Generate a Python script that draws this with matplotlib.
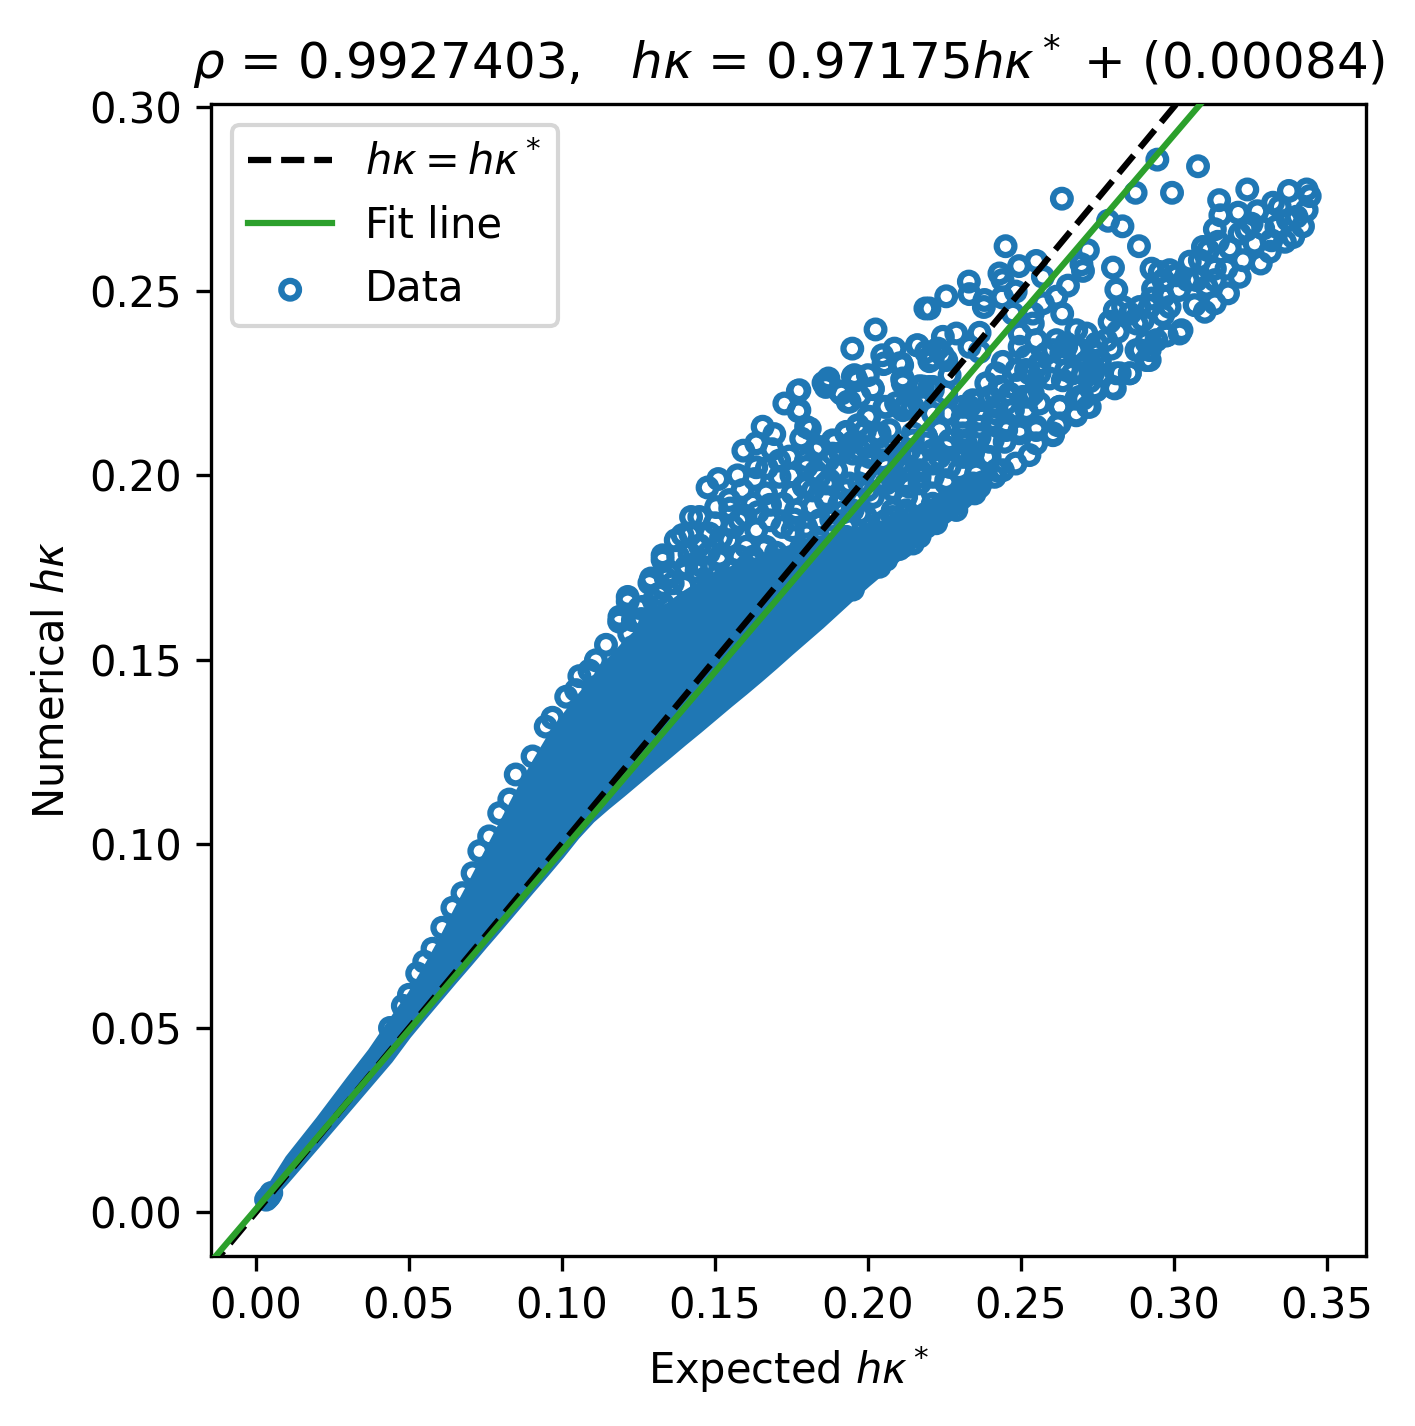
import matplotlib
matplotlib.use("Agg")
import matplotlib.pyplot as plt
import numpy as np

# ---------------- data ----------------
rho = 0.9927403
fit_slope = 0.97175
fit_intercept = 0.00084

# envelope of the saturated (fully overlapping) part of the point cloud
core_x = [0.003, 0.010, 0.020, 0.030, 0.037, 0.044, 0.050, 0.055, 0.060, 0.065,
          0.070, 0.075, 0.080, 0.085, 0.090, 0.095, 0.100, 0.105, 0.110, 0.115,
          0.120, 0.125, 0.130, 0.135, 0.140, 0.145, 0.150, 0.155, 0.160, 0.165,
          0.170, 0.175, 0.180, 0.185, 0.190, 0.195, 0.200, 0.205, 0.210, 0.215,
          0.220, 0.225, 0.230, 0.235, 0.240]
core_lo = [0.0018, 0.0082, 0.0178, 0.0275, 0.0343, 0.0411, 0.0478, 0.0528, 0.0577, 0.0626,
           0.0674, 0.0723, 0.0771, 0.0820, 0.0869, 0.0917, 0.0966, 0.1018, 0.1063, 0.1099,
           0.1133, 0.1168, 0.1203, 0.1237, 0.1272, 0.1306, 0.1341, 0.1376, 0.1410, 0.1445,
           0.1481, 0.1518, 0.1554, 0.1590, 0.1628, 0.1666, 0.1703, 0.1738, 0.1773, 0.1805,
           0.1840, 0.1870, 0.1900, 0.1935, 0.1970]
core_hi = [0.0058, 0.0150, 0.0255, 0.0365, 0.0440, 0.0525, 0.0595, 0.0665, 0.0740, 0.0822,
           0.0900, 0.0980, 0.1060, 0.1140, 0.1215, 0.1285, 0.1345, 0.1400, 0.1450, 0.1500,
           0.1545, 0.1585, 0.1625, 0.1655, 0.1685, 0.1710, 0.1735, 0.1750, 0.1765, 0.1780,
           0.1795, 0.1810, 0.1825, 0.1835, 0.1845, 0.1855, 0.1865, 0.1875, 0.1885, 0.1900,
           0.1930, 0.1960, 0.1985, 0.2005, 0.2020]

# individual points (expected, numerical)
pts_start = [(0.0033, 0.0034), (0.0040, 0.0040), (0.0050, 0.0052), (0.0045, 0.0045)]

pts_fringe = [(0.0373, 0.0392), (0.0438, 0.0500), (0.0480, 0.0560), (0.0500, 0.0590),
              (0.0527, 0.0648), (0.0550, 0.0680),
              (0.0577, 0.0715), (0.0609, 0.0772), (0.0642, 0.0826), (0.0675, 0.0866),
              (0.0708, 0.0920), (0.0730, 0.0980), (0.0762, 0.1020), (0.0795, 0.1083),
              (0.0828, 0.1120), (0.0849, 0.1188), (0.0904, 0.1237), (0.0947, 0.1318),
              (0.0969, 0.1342), (0.1057, 0.1455), (0.1090, 0.1470), (0.1144, 0.1540),
              (0.1187, 0.1603), (0.1215, 0.1658), (0.1286, 0.1708), (0.1329, 0.1771)]

pts_inner = [(0.1460, 0.1652), (0.1558, 0.1661), (0.1438, 0.1761), (0.1515, 0.1779),
             (0.1602, 0.1707), (0.1362, 0.1707), (0.1296, 0.1598), (0.1231, 0.1534),
             (0.1187, 0.1471), (0.1144, 0.1417), (0.1275, 0.1453), (0.1362, 0.1525),
             (0.1427, 0.1580), (0.1515, 0.1580), (0.1624, 0.1634), (0.1689, 0.1743),
             (0.1733, 0.1688), (0.1787, 0.1761), (0.1624, 0.1779), (0.1558, 0.1743),
             (0.1482, 0.1707), (0.1406, 0.1652), (0.1329, 0.1652), (0.1253, 0.1640),
             (0.1111, 0.1498), (0.1046, 0.1417), (0.1014, 0.1399),
             (0.1400, 0.1700), (0.1440, 0.1740), (0.1480, 0.1790), (0.1520, 0.1830),
             (0.1560, 0.1860), (0.1600, 0.1890), (0.1640, 0.1900), (0.1680, 0.1920),
             (0.1720, 0.1860), (0.1760, 0.1880), (0.1800, 0.1840), (0.1840, 0.1830),
             (0.1880, 0.1880), (0.1920, 0.1900), (0.1960, 0.1930), (0.2000, 0.1960),
             (0.2040, 0.1990), (0.1450, 0.1810), (0.1500, 0.1870), (0.1550, 0.1910),
             (0.1590, 0.1960), (0.1630, 0.1990), (0.1670, 0.2020), (0.1710, 0.2040),
             (0.1750, 0.2000), (0.1790, 0.1970), (0.1830, 0.2010), (0.1870, 0.2040),
             (0.1910, 0.2060), (0.1950, 0.2090), (0.1990, 0.2120), (0.1380, 0.1780),
             (0.1340, 0.1720), (0.1300, 0.1660), (0.1260, 0.1610), (0.1220, 0.1570),
             (0.1420, 0.1840), (0.1530, 0.1720), (0.1580, 0.1780), (0.1660, 0.1800),
             (0.1700, 0.1790), (0.1780, 0.1800)]

pts_mid = [(0.1771, 0.2229), (0.1727, 0.2195), (0.1773, 0.2174), (0.1855, 0.2251), (0.1871, 0.2263),
           (0.1907, 0.2228), (0.1940, 0.2200), (0.1951, 0.2269), (0.2000, 0.2272), (0.2016, 0.2234),
           (0.1973, 0.2214), (0.2051, 0.2302), (0.2112, 0.2299), (0.2112, 0.2261), (0.2169, 0.2242),
           (0.1656, 0.2132), (0.1694, 0.2112), (0.1798, 0.2132), (0.1782, 0.2100), (0.1635, 0.2087),
           (0.1593, 0.2067), (0.1687, 0.2071), (0.1635, 0.2022), (0.1574, 0.2000), (0.1511, 0.1990),
           (0.1476, 0.1967), (0.1743, 0.2051), (0.1798, 0.2041), (0.1842, 0.2077), (0.1885, 0.2095),
           (0.1929, 0.2118), (0.1967, 0.2136), (0.2000, 0.2159), (0.2060, 0.2186), (0.2092, 0.2196),
           (0.2125, 0.2192), (0.2169, 0.2210), (0.2201, 0.2240), (0.2038, 0.2114), (0.2060, 0.2077),
           (0.2049, 0.2041), (0.2081, 0.1996), (0.2060, 0.1978), (0.1994, 0.2077), (0.1951, 0.2059),
           (0.1896, 0.2014), (0.1863, 0.1978), (0.1929, 0.1960), (0.1994, 0.2014), (0.1798, 0.1969),
           (0.1754, 0.1951), (0.1711, 0.1996), (0.1667, 0.1951), (0.1624, 0.1923), (0.1722, 0.1923),
           (0.1765, 0.1905), (0.1820, 0.1914), (0.1863, 0.1932), (0.1842, 0.1878), (0.1798, 0.1860),
           (0.1754, 0.1851), (0.1678, 0.1878), (0.1635, 0.1851), (0.1580, 0.1878), (0.1547, 0.1933),
           (0.1504, 0.1914), (0.1449, 0.1887), (0.1422, 0.1887), (0.1394, 0.1838), (0.1372, 0.1824),
           (0.1329, 0.1783), (0.1291, 0.1720), (0.1215, 0.1670), (0.1188, 0.1616), (0.1482, 0.1842),
           (0.1547, 0.1824), (0.1602, 0.1806), (0.1515, 0.1770), (0.1460, 0.1752), (0.1406, 0.1752),
           (0.1351, 0.1734), (0.1417, 0.1788), (0.1602, 0.1752), (0.1667, 0.1806), (0.1700, 0.1770),
           (0.1318, 0.1679), (0.1264, 0.1643), (0.1232, 0.1607),
           (0.2147, 0.2114), (0.2190, 0.2087), (0.2125, 0.2059), (0.2169, 0.2014), (0.2136, 0.1969),
           (0.2212, 0.1951), (0.2190, 0.1896), (0.2125, 0.1896), (0.2125, 0.1842), (0.2060, 0.1878),
           (0.2016, 0.1842), (0.2103, 0.1800), (0.2147, 0.1815), (0.2038, 0.1770), (0.1973, 0.1734),
           (0.1951, 0.1690), (0.1896, 0.1679), (0.1929, 0.1716), (0.1885, 0.1806), (0.1951, 0.1788),
           (0.1994, 0.1806), (0.1929, 0.1860), (0.1973, 0.1896)]

pts_band = [(0.2188, 0.2453), (0.2025, 0.2396), (0.1949, 0.2344), (0.2160, 0.2353), (0.2047, 0.2326),
            (0.2087, 0.2344), (0.2103, 0.2304), (0.2114, 0.2263), (0.2054, 0.2304), (0.1864, 0.2254),
            (0.1862, 0.2240), (0.1956, 0.2272), (0.1963, 0.2258), (0.1913, 0.2222), (0.1934, 0.2200),
            (0.2016, 0.2236), (0.2005, 0.2159), (0.2054, 0.2186), (0.1776, 0.2231), (0.1776, 0.2177),
            (0.1810, 0.2127), (0.1929, 0.2114), (0.1967, 0.2132), (0.1891, 0.2091), (0.1831, 0.2068),
            (0.1885, 0.2059), (0.1972, 0.2068), (0.2005, 0.2050), (0.2071, 0.2123), (0.2114, 0.2177),
            (0.2125, 0.2186), (0.2169, 0.2240), (0.2212, 0.2231), (0.2190, 0.2335), (0.2201, 0.2310),
            (0.2038, 0.2105), (0.2038, 0.2068), (0.2060, 0.2023), (0.2136, 0.2068), (0.2103, 0.2032),
            (0.2136, 0.2023), (0.2190, 0.2105), (0.2212, 0.2068), (0.2169, 0.1978), (0.2212, 0.1996),
            (0.2114, 0.1978), (0.2081, 0.1960), (0.2016, 0.1941), (0.1972, 0.1978), (0.1939, 0.1978),
            (0.1874, 0.1987), (0.1842, 0.1996), (0.1799, 0.2023), (0.2321, 0.2086), (0.2310, 0.2050),
            (0.2267, 0.2023), (0.2256, 0.1978), (0.2299, 0.1942), (0.2343, 0.1978), (0.2289, 0.1925),
            (0.2212, 0.1923), (0.2234, 0.1895), (0.2169, 0.1887), (0.2125, 0.1905), (0.2081, 0.1887),
            (0.2038, 0.1869), (0.1994, 0.1887), (0.1950, 0.1905), (0.1907, 0.1923), (0.1864, 0.1941),
            (0.1820, 0.1959), (0.2103, 0.1830), (0.2060, 0.1815), (0.2016, 0.1797), (0.1972, 0.1815),
            (0.1929, 0.1833), (0.1885, 0.1851), (0.1842, 0.1869), (0.1994, 0.1743), (0.1950, 0.1752),
            (0.1907, 0.1761), (0.2147, 0.1842), (0.2190, 0.1860), (0.2223, 0.1896), (0.2038, 0.1752),
            (0.2414, 0.1996), (0.2441, 0.2014), (0.2365, 0.1969), (0.2349, 0.1951), (0.2289, 0.1906),
            (0.2223, 0.1870), (0.2169, 0.1834), (0.2114, 0.1807), (0.2060, 0.1771), (0.2032, 0.1753),
            (0.2310, 0.2068), (0.2343, 0.2059), (0.2398, 0.2050), (0.2408, 0.2095), (0.2365, 0.2104),
            (0.2310, 0.2141), (0.2365, 0.2159), (0.2452, 0.2141), (0.2496, 0.2123), (0.2550, 0.2132),
            (0.2605, 0.2114), (0.2627, 0.2141), (0.2627, 0.2186), (0.2681, 0.2168), (0.2725, 0.2186),
            (0.2692, 0.2213), (0.2747, 0.2231), (0.2801, 0.2240), (0.2856, 0.2277), (0.2823, 0.2277),
            (0.2910, 0.2313), (0.2921, 0.2340), (0.2888, 0.2340), (0.2943, 0.2367), (0.3019, 0.2385),
            (0.2976, 0.2380), (0.2758, 0.2313), (0.2736, 0.2295), (0.2703, 0.2277), (0.2692, 0.2340),
            (0.2648, 0.2349), (0.2605, 0.2340), (0.2561, 0.2304), (0.2517, 0.2286), (0.2496, 0.2250),
            (0.2528, 0.2213), (0.2452, 0.2195), (0.2419, 0.2168), (0.2398, 0.2213), (0.2343, 0.2204),
            (0.2310, 0.2186), (0.2256, 0.2168), (0.2234, 0.2123), (0.2190, 0.2105), (0.2256, 0.2077),
            (0.2212, 0.2032), (0.2169, 0.1996), (0.2256, 0.1987), (0.2299, 0.2014), (0.2125, 0.1942),
            (0.2081, 0.1905), (0.2147, 0.1887), (0.2103, 0.1851), (0.2081, 0.1987), (0.2060, 0.2032),
            (0.2103, 0.2059), (0.2147, 0.2095), (0.2163, 0.2353), (0.2109, 0.2304), (0.2114, 0.2250),
            (0.2212, 0.2317), (0.2245, 0.2326), (0.2267, 0.2272), (0.2180, 0.2241), (0.2147, 0.2186)]

pts_upper = [(0.2946, 0.2857), (0.3079, 0.2839), (0.2875, 0.2767), (0.2994, 0.2767), (0.2634, 0.2751),
             (0.3240, 0.2776), (0.3376, 0.2772), (0.3434, 0.2776), (0.3444, 0.2758), (0.3148, 0.2747),
             (0.3152, 0.2706), (0.3210, 0.2713), (0.3273, 0.2717), (0.3324, 0.2740), (0.3346, 0.2729),
             (0.3434, 0.2720), (0.3401, 0.2702), (0.3373, 0.2693), (0.3422, 0.2676), (0.3390, 0.2647),
             (0.3363, 0.2634), (0.3319, 0.2638), (0.3314, 0.2607), (0.3284, 0.2575), (0.3264, 0.2629),
             (0.3237, 0.2666), (0.3215, 0.2656), (0.3254, 0.2683), (0.3292, 0.2670), (0.3335, 0.2675),
             (0.3134, 0.2668), (0.3226, 0.2584), (0.3215, 0.2539), (0.3177, 0.2494), (0.3144, 0.2634),
             (0.3112, 0.2611), (0.3183, 0.2616), (0.3172, 0.2561), (0.3134, 0.2561), (0.3134, 0.2530),
             (0.3095, 0.2620), (0.3085, 0.2584), (0.3052, 0.2580), (0.3074, 0.2530), (0.3107, 0.2512),
             (0.3134, 0.2467), (0.3101, 0.2444), (0.3068, 0.2462), (0.3046, 0.2530), (0.3017, 0.2503),
             (0.2986, 0.2557), (0.2954, 0.2552), (0.2927, 0.2561), (0.2965, 0.2530), (0.3008, 0.2543),
             (0.2932, 0.2507), (0.2928, 0.2480), (0.2965, 0.2485), (0.2986, 0.2457), (0.2965, 0.2435),
             (0.3025, 0.2394), (0.2976, 0.2380), (0.2921, 0.2457), (0.2888, 0.2457), (0.2856, 0.2439),
             (0.2899, 0.2421), (0.2878, 0.2412), (0.2834, 0.2457), (0.2807, 0.2448), (0.2790, 0.2417),
             (0.2817, 0.2390), (0.2779, 0.2367), (0.2747, 0.2358), (0.2796, 0.2344), (0.2878, 0.2340),
             (0.2910, 0.2362), (0.2921, 0.2313), (0.2747, 0.2331), (0.2757, 0.2304), (0.2812, 0.2277),
             (0.2856, 0.2277), (0.2807, 0.2236), (0.2736, 0.2277), (0.2741, 0.2236), (0.2725, 0.2255),
             (0.2703, 0.2208), (0.2719, 0.2186), (0.2681, 0.2163), (0.2627, 0.2186), (0.2621, 0.2136),
             (0.2605, 0.2109), (0.2550, 0.2123), (0.2528, 0.2055), (0.2483, 0.2032), (0.2550, 0.2087),
             (0.2681, 0.2208), (0.2670, 0.2277), (0.2714, 0.2308), (0.2676, 0.2340), (0.2714, 0.2385),
             (0.2681, 0.2394), (0.2648, 0.2358), (0.2616, 0.2367), (0.2632, 0.2331), (0.2583, 0.2331),
             (0.2550, 0.2367), (0.2539, 0.2412), (0.2496, 0.2385), (0.2496, 0.2349), (0.2518, 0.2322),
             (0.2441, 0.2308), (0.2485, 0.2286), (0.2528, 0.2277), (0.2561, 0.2277), (0.2594, 0.2263),
             (0.2637, 0.2258), (0.2648, 0.2286), (0.2420, 0.2277), (0.2387, 0.2250), (0.2430, 0.2240),
             (0.2463, 0.2222), (0.2507, 0.2213), (0.2539, 0.2222), (0.2561, 0.2195), (0.2518, 0.2177),
             (0.2474, 0.2177), (0.2420, 0.2186), (0.2365, 0.2204), (0.2332, 0.2186), (0.2408, 0.2150),
             (0.2452, 0.2123), (0.2496, 0.2114), (0.2447, 0.2091), (0.2398, 0.2091), (0.2365, 0.2132),
             (0.2310, 0.2114), (0.2267, 0.2095), (0.2321, 0.2059), (0.2387, 0.2050), (0.2420, 0.2014),
             (0.2234, 0.2050), (0.2354, 0.2005),
             (0.2450, 0.2622), (0.2494, 0.2568), (0.2550, 0.2582), (0.2572, 0.2539), (0.2430, 0.2548),
             (0.2440, 0.2530), (0.2330, 0.2526), (0.2332, 0.2492), (0.2256, 0.2486), (0.2381, 0.2476),
             (0.2379, 0.2457), (0.2439, 0.2483), (0.2483, 0.2499), (0.2201, 0.2453), (0.2785, 0.2691),
             (0.2832, 0.2676), (0.2886, 0.2622), (0.2719, 0.2611), (0.2698, 0.2573), (0.2703, 0.2555),
             (0.2801, 0.2564), (0.2654, 0.2515), (0.2812, 0.2504), (0.2616, 0.2485), (0.2572, 0.2467),
             (0.2635, 0.2439), (0.2474, 0.2439), (0.2539, 0.2439), (0.2365, 0.2387), (0.2245, 0.2376),
             (0.2289, 0.2385), (0.2229, 0.2344), (0.2256, 0.2313), (0.2332, 0.2349), (0.2365, 0.2335),
             (0.2212, 0.2240), (0.2256, 0.2222), (0.2267, 0.2168), (0.2212, 0.2168), (0.2310, 0.2159)]

title_text = (r"$\rho$ = " + f"{rho:.7f}" + r",   $h\kappa$ = " + f"{fit_slope:.5f}"
              + r"$h\kappa^*$ + (" + f"{fit_intercept:.5f}" + ")")

# ---------------- plotting ----------------
W, H = 1415, 1426
fig = plt.figure(figsize=(W / 300, H / 300), dpi=300)
ax = fig.add_axes([211 / W, 1 - 1256 / H, (1366 - 211) / W, (1256 - 104) / H])

xlim = (-0.0147, 0.3628)
ylim = (-0.0119, 0.3008)

all_pts = pts_start + pts_fringe + pts_inner + pts_mid + pts_band + pts_upper
px = np.array([p[0] for p in all_pts])
py = np.array([p[1] for p in all_pts])

line_x = np.array([-0.05, 0.40])
ax.plot(line_x, line_x, "k--", lw=1.5, label=r"$h\kappa = h\kappa^*$", zorder=3)
ax.plot(line_x, fit_slope * line_x + fit_intercept, color="tab:green", lw=1.5,
        label="Fit line", zorder=3)
ax.fill_between(core_x, core_lo, core_hi, color="#1f77b4", lw=0.8,
                edgecolor="#1f77b4", zorder=1)
ax.scatter(px, py, s=18, facecolors="none", edgecolors="#1f77b4", linewidths=1.5,
           label="Data", zorder=2)

ax.set_xlim(*xlim)
ax.set_ylim(*ylim)
ax.set_xlabel(r"Expected $h\kappa^*$")
ax.set_ylabel(r"Numerical $h\kappa$")
ax.set_title(title_text, fontsize=12)
ax.legend(loc="upper left")

fig.savefig("out.png", dpi=300)
